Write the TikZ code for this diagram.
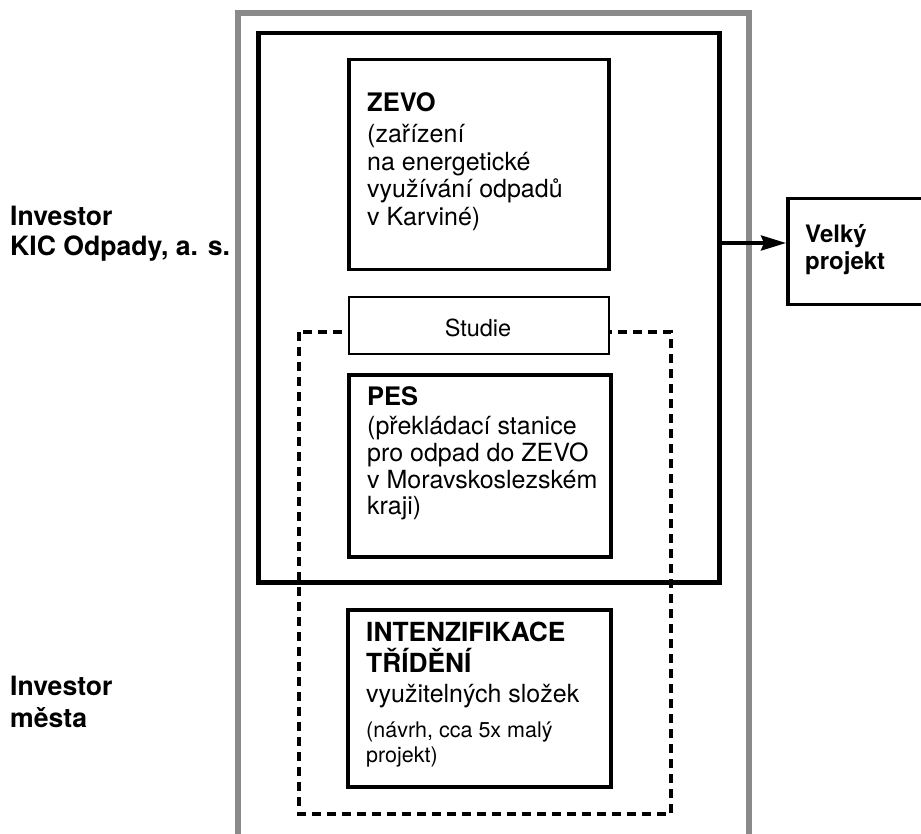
\documentclass[tikz,border=0pt]{standalone}
\usepackage{fontspec}
\setmainfont{TeX Gyre Heros}
\usetikzlibrary{arrows.meta}
\definecolor{framegray}{HTML}{8A8A8A}
\tikzset{
  box/.style={draw=black, line width=3.5pt, fill=white, rectangle, inner sep=0pt, anchor=north west},
  thinbox/.style={draw=black, line width=1.8pt, fill=white, rectangle, inner sep=0pt, anchor=north west},
  txt/.style={anchor=base west, inner sep=0pt, font=\fontsize{25}{30}\selectfont},
  txtbold/.style={txt, font=\fontsize{25.5}{30}\selectfont\bfseries},
  txtside/.style={txt, font=\fontsize{26.6}{30}\selectfont\bfseries},
  txtsmall/.style={txt, font=\fontsize{21.5}{25}\selectfont},
}
\begin{document}
\begin{tikzpicture}[x=1pt, y=-1pt]
  \useasboundingbox (0,0) rectangle (921,834);
  \clip (0,0) rectangle (921,834);

  % investor frame (open at the bottom) and the large-project frame
  \draw[framegray, line width=5.5pt] (238,850) -- (238,13) -- (749,13) -- (749,850);
  \node[box, line width=4.5pt, fill=none, minimum width=461pt, minimum height=549pt] (main) at (256,31) {};

  % dashed study area
  \draw[line width=3.2pt, dash pattern=on 9pt off 6pt]
    (299,332) rectangle (671,814);

  % boxes
  \node[box, minimum width=260pt, minimum height=210pt] (zevo) at (347,58) {};
  \node[thinbox, minimum width=260pt, minimum height=57pt] (studie) at (348,296) {};
  \node[box, minimum width=262pt, minimum height=182pt] (pes) at (347,373) {};
  \node[box, minimum width=263pt, minimum height=177pt] (int) at (346,608) {};
  \node[box, minimum width=160pt, minimum height=106pt] (velky) at (786,197) {};

  % ZEVO
  \node[txtbold] (zevo1) at (367,112) {ZEVO};
  \node[txt] (zevo2) at (367,143) {(zařízení};
  \node[txt] (zevo3) at (367,171) {na energetické};
  \node[txt] (zevo4) at (367,198) {využívání odpadů};
  \node[txt] (zevo5) at (367,226) {v Karviné)};

  % Studie
  \node[txt, anchor=base, font=\fontsize{23.5}{28}\selectfont] (studietxt) at (478,337) {Studie};

  % PES
  \node[txtbold] (pes1) at (367,405) {PES};
  \node[txt] (pes2) at (367,434) {(překládací stanice};
  \node[txt] (pes3) at (367,461) {pro odpad do ZEVO};
  \node[txt] (pes4) at (367,488) {v Moravskoslezském};
  \node[txt] (pes5) at (367,514) {kraji)};

  % intenzifikace
  \node[txtbold, font=\fontsize{26.3}{30}\selectfont\bfseries] (int1) at (366,641) {INTENZIFIKACE};
  \node[txtbold, font=\fontsize{26.3}{30}\selectfont\bfseries] (int2) at (366,672) {TŘÍDĚNÍ};
  \node[txt] (int3) at (366,702) {využitelných složek};
  \node[txtsmall] (int4) at (366,737) {(návrh, cca 5x malý};
  \node[txtsmall] (int5) at (366,762) {projekt)};

  % large project
  \node[txtbold, font=\fontsize{24}{30}\selectfont\bfseries] (velky1) at (805,243) {Velký};
  \node[txtbold, font=\fontsize{24}{30}\selectfont\bfseries] (velky2) at (805,270) {projekt};

  % investors
  \node[txtside] (kic1) at (10,226) {Investor};
  \node[txtside] (kic2) at (10,256) {KIC Odpady, a. s.};
  \node[txtside] (mesta1) at (10,695) {Investor};
  \node[txtside] (mesta2) at (10,727) {města};

  % the large-project frame feeds the large project
  \coordinate (arrowstart) at (main.east |- 0,243);
  \draw[line width=3.5pt, -{Stealth[length=25pt, width=15pt, inset=3pt]}]
    (arrowstart) -- (velky.west |- arrowstart);
\end{tikzpicture}
\end{document}
